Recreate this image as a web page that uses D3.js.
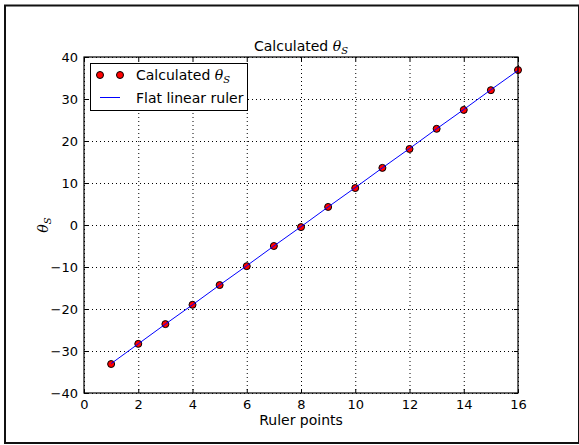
<!DOCTYPE html>
<html>
<head>
<meta charset="utf-8">
<script src="https://cdn.jsdelivr.net/npm/d3@7"></script>
<style>
  html, body { margin: 0; padding: 0; background: #fff; }
  svg { display: block; }
  text { font-family: "DejaVu Sans", sans-serif; fill: #000; }
  .math { font-family: "DejaVu Serif", serif; font-style: italic; }
</style>
</head>
<body>
<svg id="chart" width="579" height="445"></svg>
<script>
// Ruler points and calculated angles
const rulerPoints = [1, 2, 3, 4, 5, 6, 7, 8, 9, 10, 11, 12, 13, 14, 15, 16];
const calculatedTheta = [-33.1, -28.3, -23.6, -19.0, -14.3, -9.8, -5.0, -0.5,
                         4.3, 8.8, 13.6, 18.1, 22.9, 27.4, 32.1, 36.9];
// Linear fit of a flat ruler, evaluated at the same points
const flatRuler = [-33.0, -28.3, -23.6, -19.0, -14.3, -9.7, -5.0, -0.4,
                   4.3, 8.9, 13.6, 18.2, 22.9, 27.5, 32.2, 36.8];
const xTicks = [0, 2, 4, 6, 8, 10, 12, 14, 16];
const yTicks = [-40, -30, -20, -10, 0, 10, 20, 30, 40];

const svg = d3.select("#chart");
const FS = 14;

// Figure frame
svg.append("rect")
  .attr("x", 5).attr("y", 5.5).attr("width", 574).attr("height", 437.5)
  .attr("fill", "none").attr("stroke", "#111").attr("stroke-width", 2);

const pLeft = 84, pRight = 518, pTop = 57, pBottom = 393;
const x = d3.scaleLinear().domain([0, 16]).range([pLeft, pRight]);
const y = d3.scaleLinear().domain([-40, 40]).range([pBottom, pTop]);

const g = svg.append("g");

// Dotted grid
g.selectAll("line.gx").data(xTicks).join("line")
  .attr("x1", d => x(d) + 0.5).attr("x2", d => x(d) + 0.5)
  .attr("y1", pTop).attr("y2", pBottom)
  .attr("stroke", "#000").attr("stroke-width", 1).attr("stroke-dasharray", "1,3");
g.selectAll("line.gy").data(yTicks).join("line")
  .attr("y1", d => y(d) + 0.5).attr("y2", d => y(d) + 0.5)
  .attr("x1", pLeft).attr("x2", pRight)
  .attr("stroke", "#000").attr("stroke-width", 1).attr("stroke-dasharray", "1,3");

// Axes with inward ticks on all four sides
const tickLen = 4;
const axB = d3.axisBottom(x).tickValues(xTicks).tickSizeInner(-tickLen).tickSizeOuter(0).tickPadding(7);
const axT = d3.axisTop(x).tickValues(xTicks).tickSizeInner(-tickLen).tickSizeOuter(0).tickFormat("");
const axL = d3.axisLeft(y).tickValues(yTicks).tickSizeInner(-tickLen).tickSizeOuter(0).tickPadding(6)
  .tickFormat(d => d < 0 ? "\u2212" + Math.abs(d) : d);
const axR = d3.axisRight(y).tickValues(yTicks).tickSizeInner(-tickLen).tickSizeOuter(0).tickFormat("");

function styleAxis(sel) {
  sel.select(".domain").remove();
  sel.selectAll("text").attr("font-family", "DejaVu Sans, sans-serif").attr("font-size", 13).attr("fill", "#000");
  sel.selectAll("line").attr("stroke", "#000");
}
g.append("g").attr("transform", `translate(0,${pBottom})`).call(axB).call(styleAxis);
g.append("g").attr("transform", `translate(0,${pTop})`).call(axT).call(styleAxis);
g.append("g").attr("transform", `translate(${pLeft},0)`).call(axL).call(styleAxis);
g.append("g").attr("transform", `translate(${pRight},0)`).call(axR).call(styleAxis);

// Calculated points
g.selectAll("circle.pt").data(calculatedTheta).join("circle")
  .attr("cx", (d, i) => x(rulerPoints[i])).attr("cy", d => y(d)).attr("r", 3.5)
  .attr("fill", "#ff0000").attr("stroke", "#000").attr("stroke-width", 1);

// Ruler line, drawn over the points
const line = d3.line().x((d, i) => x(rulerPoints[i])).y(d => y(d));
g.append("path").datum(flatRuler)
  .attr("d", line).attr("fill", "none").attr("stroke", "#0000ff").attr("stroke-width", 1);

// Plot frame
g.append("rect").attr("x", pLeft).attr("y", pTop)
  .attr("width", pRight - pLeft).attr("height", pBottom - pTop)
  .attr("fill", "none").attr("stroke", "#000").attr("stroke-width", 1.2);

// Title
const title = svg.append("text").attr("x", (pLeft + pRight) / 2).attr("y", 51)
  .attr("text-anchor", "middle").attr("font-size", FS);
title.append("tspan").text("Calculated ");
title.append("tspan").attr("class", "math").text("θ");
title.append("tspan").attr("class", "math").attr("font-size", 10).attr("dy", 3).text("S");

// Axis labels
svg.append("text").attr("x", (pLeft + pRight) / 2).attr("y", 425)
  .attr("text-anchor", "middle").attr("font-size", FS).text("Ruler points");
const yl = svg.append("text").attr("transform", "translate(48,225) rotate(-90)")
  .attr("text-anchor", "middle").attr("font-size", FS);
yl.append("tspan").attr("class", "math").text("θ");
yl.append("tspan").attr("class", "math").attr("font-size", 10).attr("dy", 3).text("S");

// Legend
const lg = svg.append("g");
lg.append("rect").attr("x", 90.5).attr("y", 63.5).attr("width", 157).attr("height", 47)
  .attr("fill", "#fff").attr("stroke", "#000").attr("stroke-width", 1);
[100, 120].forEach(cx => lg.append("circle").attr("cx", cx).attr("cy", 75).attr("r", 3.5)
  .attr("fill", "#ff0000").attr("stroke", "#000").attr("stroke-width", 1));
lg.append("line").attr("x1", 100).attr("x2", 120).attr("y1", 97.5).attr("y2", 97.5)
  .attr("stroke", "#0000ff").attr("stroke-width", 1);
const l1 = lg.append("text").attr("x", 136).attr("y", 80).attr("font-size", FS);
l1.append("tspan").text("Calculated ");
l1.append("tspan").attr("class", "math").text("θ");
l1.append("tspan").attr("class", "math").attr("font-size", 10).attr("dy", 3).text("S");
lg.append("text").attr("x", 136).attr("y", 103).attr("font-size", FS).text("Flat linear ruler");
</script>
</body>
</html>
